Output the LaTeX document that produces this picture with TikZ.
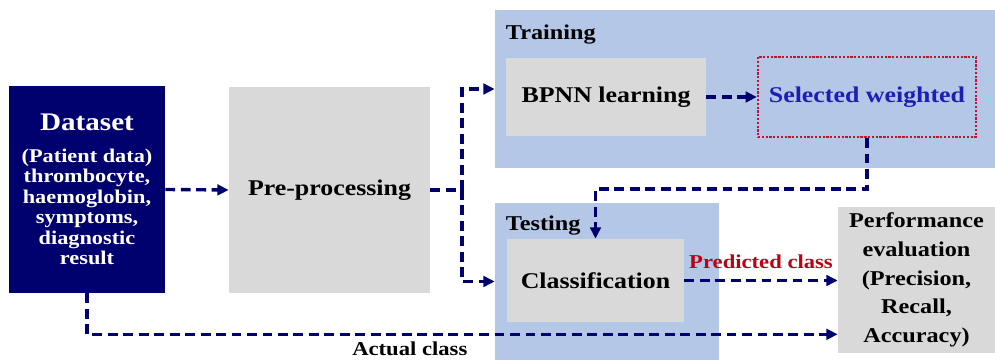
\documentclass[tikz,border=0pt]{standalone}
\usepackage{fontspec}
\setmainfont{Liberation Serif}[FakeStretch=1.15]
\usepackage{xcolor}
\usetikzlibrary{arrows.meta,positioning,calc}
\definecolor{navy}{RGB}{0,0,110}
\definecolor{boxgray}{RGB}{217,217,217}
\definecolor{panelblue}{RGB}{180,199,231}
\definecolor{dotred}{RGB}{192,20,60}
\definecolor{wblue}{RGB}{30,30,180}
\definecolor{predred}{RGB}{190,0,20}

\begin{document}
\begin{tikzpicture}[
  x=0.025cm, y=-0.025cm,
  arr/.style={-{Triangle[length=8pt,width=7.5pt]}, navy, line width=2.4pt, dash pattern=on 7pt off 4pt},
  block/.style={rectangle, fill=boxgray, font=\bfseries\fontsize{16}{19}\selectfont, align=center, inner sep=0pt},
  panel/.style={rectangle, fill=panelblue, inner sep=0pt},
  tag/.style={font=\bfseries\fontsize{15}{18}\selectfont, anchor=north west, inner sep=0pt},
  lbl/.style={font=\bfseries\fontsize{14}{16}\selectfont, text=black, inner sep=1pt},
]
\useasboundingbox (0,0) rectangle (995,361);

% Panels
\node[panel, minimum width=12.5cm, minimum height=3.95cm] (train) at (745,89) {};
\node[panel, minimum width=5.6cm, minimum height=3.925cm] (test) at (607,281.5) {};
\node[tag] at ([xshift=0.275cm,yshift=-0.375cm]train.north west) {Training};
\node[tag] at ([xshift=0.275cm,yshift=-0.325cm]test.north west) {Testing};

% Blocks
\node[block, fill=navy, text=white, minimum width=3.9cm, minimum height=5.175cm,
      font=\bfseries\fontsize{13.8}{14.6}\selectfont] (data) at (87,189.5)
  {{\fontsize{18}{20}\selectfont Dataset}\\[8pt](Patient data)\\thrombocyte,\\haemoglobin,\\symptoms,\\diagnostic\\result};
\node[block, minimum width=5.025cm, minimum height=5.15cm] (prep) at (329.5,190) {Pre-processing};
\node[block, minimum width=5cm, minimum height=1.95cm] (bpnn) at (606,97) {BPNN learning};
\node[block, fill=none, draw=dotred, line width=1.6pt, dash pattern=on 1.6pt off 1.1pt, text=wblue,
      minimum width=5.45cm, minimum height=2cm] (weights) at (867,97) {Selected weighted};
\node[block, minimum width=4.425cm, minimum height=2.075cm] (classify) at (595.5,280.5) {Classification};
\node[block, minimum width=3.925cm, minimum height=3.65cm,
      font=\bfseries\fontsize{15}{20.4}\selectfont] (perf) at (916.5,280)
  {Performance\\evaluation\\(Precision,\\Recall,\\Accuracy)};

% Data flow
\coordinate (split) at (462,190);
\draw[arr] (data.east) -- (prep.west);
\draw[arr, -] (prep.east) -- (split);
\draw[arr] (split) |- (train.west);
\draw[arr] (split) |- (test.west);

% Training
\draw[arr] (bpnn.east) -- (weights.west);
\draw[arr] (weights.south) -- ++(0,51) -| (classify.north);

% Testing
\draw[arr] (classify.east) -- node[lbl, text=predred, above=6pt] {Predicted class} (classify.east -| perf.west);

% Actual class
\draw[arr] (data.south) -- ++(0,41) coordinate (actual)
  -- node[lbl, pos=0.43, below=3pt] {Actual class} (actual -| perf.west);
\end{tikzpicture}
\end{document}
